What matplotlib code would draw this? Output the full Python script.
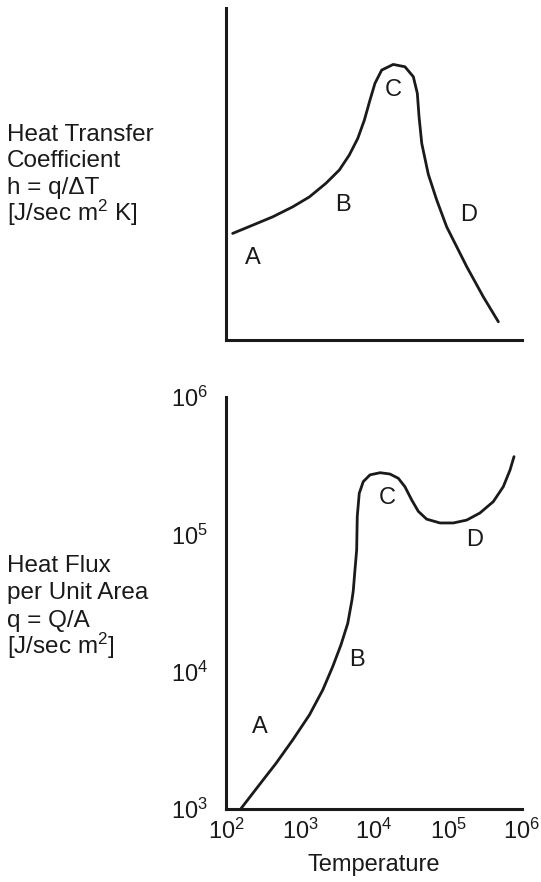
import matplotlib
matplotlib.use("Agg")
import matplotlib.pyplot as plt

plt.rcParams['font.family'] = ['Liberation Sans', 'DejaVu Sans']
plt.rcParams['mathtext.fontset'] = 'custom'
plt.rcParams['mathtext.rm'] = 'Liberation Sans'

# ---- data ----
# Top panel: heat transfer coefficient (arbitrary linear units) vs temperature
h_temp = [123, 230, 428, 796, 1.34e3, 2.24e3, 3.40e3, 4.63e3, 6.03e3, 7.40e3,
          8.83e3, 1.03e4, 1.27e4, 1.82e4, 2.62e4, 3.40e4, 3.85e4, 4.06e4, 4.42e4,
          5.42e4, 7.03e4, 9.59e4, 1.79e5, 3.00e5, 4.79e5]
h_value = [0.321, 0.346, 0.371, 0.401, 0.431, 0.472, 0.512, 0.557, 0.607, 0.662,
           0.723, 0.773, 0.813, 0.830, 0.823, 0.793, 0.743, 0.673, 0.592,
           0.499, 0.422, 0.341, 0.221, 0.130, 0.055]

# Bottom panel: heat flux vs temperature (log-log)
q_temp = [160, 282, 474, 796, 1.34e3, 2.03e3, 2.77e3, 3.58e3, 4.42e3, 5.04e3,
          5.25e3, 5.53e3, 5.83e3, 5.94e3, 6.32e3, 7.16e3, 8.83e3, 1.21e4, 1.64e4,
          2.13e4, 2.62e4, 3.23e4, 3.97e4, 5.15e4, 7.8e4, 1.18e5, 1.79e5, 2.70e5,
          4.09e5, 5.58e5, 6.89e5, 7.80e5]
q_value = [1.01e3, 1.50e3, 2.15e3, 3.18e3, 4.84e3, 7.36e3, 1.09e4, 1.57e4, 2.25e4,
           3.33e4, 3.90e4, 5.51e4, 7.69e4, 1.35e5, 1.99e5, 2.42e5, 2.71e5, 2.81e5,
           2.75e5, 2.56e5, 2.22e5, 1.78e5, 1.47e5, 1.29e5, 1.21e5, 1.21e5, 1.27e5,
           1.43e5, 1.73e5, 2.22e5, 2.94e5, 3.68e5]

region_labels = ['A', 'B', 'C', 'D']
top_label_x = [234, 3.85e3, 1.82e4, 1.88e5]
top_label_y = [0.246, 0.407, 0.753, 0.377]
bot_label_x = [288, 5.83e3, 1.49e4, 2.32e5]
bot_label_y = [3.97e3, 1.22e4, 1.83e5, 9.1e4]

x_ticks = [1e2, 1e3, 1e4, 1e5, 1e6]
x_tick_labels = [r'$\mathregular{10^{2}}$', r'$\mathregular{10^{3}}$', r'$\mathregular{10^{4}}$',
                 r'$\mathregular{10^{5}}$', r'$\mathregular{10^{6}}$']
y_ticks = [1e3, 1e4, 1e5, 1e6]
y_tick_labels = [r'$\mathregular{10^{3}}$', r'$\mathregular{10^{4}}$',
                 r'$\mathregular{10^{5}}$', r'$\mathregular{10^{6}}$']

top_ylabel_lines = ["Heat Transfer", "Coefficient", "h = q/\u0394T",
                    "[J/sec m$\\mathregular{^{2}}$ K]"]
bot_ylabel_lines = ["Heat Flux", "per Unit Area", "q = Q/A",
                    "[J/sec m$\\mathregular{^{2}}$]"]
x_label = "Temperature"

# ---- figure ----
W, H = 541, 882
fig = plt.figure(figsize=(W / 100, H / 100), dpi=100)
ink = '#1a1a1a'
fs = 17
fs_side = 17.5

def px_axes(x0, y0, x1, y1):
    return fig.add_axes([x0 / W, 1 - y1 / H, (x1 - x0) / W, (y1 - y0) / H])

ax1 = px_axes(226, 8, 522, 340)
ax2 = px_axes(226, 397, 522, 809)

for ax in (ax1, ax2):
    for s in ('top', 'right'):
        ax.spines[s].set_visible(False)
    for s in ('left', 'bottom'):
        ax.spines[s].set_linewidth(2.2)
        ax.spines[s].set_color(ink)
    ax.set_xscale('log')
    ax.set_xlim(1e2, 1e6)
    ax.minorticks_off()

# top panel
ax1.plot(h_temp, h_value, color=ink, lw=2.0, solid_joinstyle='round', solid_capstyle='round')
ax1.set_ylim(0, 1)
ax1.set_xticks([])
ax1.set_yticks([])
for lab, x, y in zip(region_labels, top_label_x, top_label_y):
    ax1.text(x, y, lab, fontsize=fs, color=ink, ha='center', va='center')

# bottom panel
ax2.set_yscale('log')
ax2.plot(q_temp, q_value, color=ink, lw=2.0, solid_joinstyle='round', solid_capstyle='round')
ax2.set_ylim(1e3, 1e6)
ax2.minorticks_off()
ax2.set_xticks(x_ticks)
ax2.set_xticklabels(x_tick_labels)
ax2.set_yticks(y_ticks)
ax2.set_yticklabels(y_tick_labels)
ax2.tick_params(axis='both', length=0, labelsize=fs, colors=ink)
ax2.tick_params(axis='x', pad=7)
ax2.tick_params(axis='y', pad=13)
ax2.set_xlabel(x_label, fontsize=fs, color=ink, labelpad=7)
for lab, x, y in zip(region_labels, bot_label_x, bot_label_y):
    ax2.text(x, y, lab, fontsize=fs, color=ink, ha='center', va='center')

# left side quantity labels, one line at a time (baselines in pixels)
top_baselines = [141, 167, 194, 221]
bot_baselines = [572, 599, 627, 654]
for line, yb in zip(top_ylabel_lines, top_baselines):
    fig.text(7 / W, 1 - yb / H, line, fontsize=fs_side, color=ink, ha='left', va='baseline')
for line, yb in zip(bot_ylabel_lines, bot_baselines):
    fig.text(7 / W, 1 - yb / H, line, fontsize=fs_side, color=ink, ha='left', va='baseline')

fig.savefig('out.png', dpi=100)
